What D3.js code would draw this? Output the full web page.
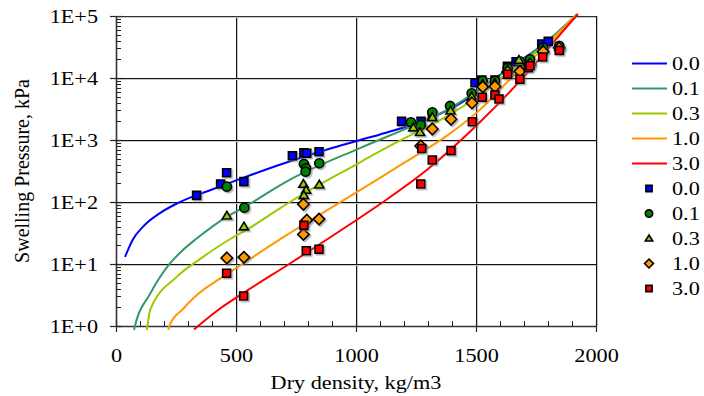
<!DOCTYPE html>
<html>
<head>
<meta charset="utf-8">
<script src="https://cdn.jsdelivr.net/npm/d3@7"></script>
<style>
  body { margin: 0; background: #fff; }
  svg text { font-family: "Liberation Serif", "Times New Roman", serif; fill: #000; }
</style>
</head>
<body>
<svg id="chart" width="704" height="396"></svg>
<script>
// ---- data ----
const seriesLabels = ['0.0', '0.1', '0.3', '1.0', '3.0'];
const xTicks = [0, 500, 1000, 1500, 2000];
const yTicks = [1, 10, 100, 1000, 10000, 100000];
const yTickLabels = ['1E+0', '1E+1', '1E+2', '1E+3', '1E+4', '1E+5'];

// model curves [dry density, swelling pressure]
const fit00 = [[37.5,13],[71,25.1],[112,39.8],[183,66.1],[254,94.6],[336,129],[392,155],[529,245],[713,437],[900,741],
  [1017,1000],[1100,1230],[1308,2240],[1446,4170],[1517,6610],[1642,14800],[1787,36300],[1921,107000]];
const fit01 = [[75,0.86],[79,1],[142,3.3],[225,10.2],[280,17],[336,25.7],[461,57.5],[535,83],[725,229],[1017,741],
  [1183,1380],[1239,1700],[1378,3020],[1489,5620],[1642,14450],[1787,36300],[1921,107000]];
const fit03 = [[128,0.86],[131,1],[142,1.8],[253,6.2],[350,12],[489,27],[530,33],[683,79],[725,100],[1017,437],
  [1100,661],[1183,977],[1239,1260],[1378,2400],[1503,4900],[1642,12900],[1787,33900],[1921,107000]];
const fit10 = [[218,0.86],[222,1],[280,1.9],[322,2.8],[461,6.8],[503,8.7],[683,25],[725,31.6],[808,50],[1017,155],
  [1100,245],[1183,389],[1238,525],[1379,1175],[1517,3090],[1642,9550],[1787,31600],[1921,107000]];
const fit30 = [[325,0.88],[420,1.75],[530,3.39],[725,10.2],[975,43.7],[1113,100],[1296,331],[1517,1950],[1713,12000],
  [1904,87100],[1925,107000]];

// measured points
const obs00 = [[336,128],[436,195],[461,297],[533,213],[735,558],[783,624],[795,610],[846,648],[1190,2000],[1271,2000],
  [1318,2500],[1496,8400],[1524,9300],[1579,9300],[1631,15400],[1667,18300],[1774,35300],[1801,39000]];
const obs01 = [[462,177],[535,81],[783,410],[792,349],[790,308],[847,421],[1229,1930],[1270,1745],[1318,2800],[1392,3535],
  [1482,5660],[1528,9000],[1579,9000],[1632,14500],[1683,18500],[1725,20000],[1780,31000],[1847,33000]];
const obs03 = [[462,60],[533,40],[781,195],[792,156],[783,128],[847,190],[1239,1580],[1267,1330],[1318,2320],[1394,2970],
  [1482,4990],[1528,8000],[1579,8300],[1632,13500],[1679,19500],[1725,17500],[1780,29000],[1847,31500]];
const obs10 = [[462,12.5],[533,12.8],[781,92],[795,51],[781,30],[846,53],[1270,800],[1318,1504],[1396,2157],[1483,3955],
  [1528,7200],[1579,7300],[1632,12500],[1683,12800],[1725,16500],[1780,26600],[1847,30500]];
const obs30 = [[461,7.1],[532,3.05],[783,42],[793,16.4],[846,17.3],[1270,195],[1274,730],[1318,476],[1396,673],[1485,1973],
  [1526,4880],[1579,5320],[1596,4580],[1632,11480],[1683,9530],[1718,14660],[1725,15800],[1778,21800],[1847,27900]];

const fits = [fit00, fit01, fit03, fit10, fit30];
const observations = [obs00, obs01, obs03, obs10, obs30];

// ---- styles ----
const lineColors = ['#0000ff', '#339966', '#99cc00', '#ff9900', '#ff0000'];
const markerFills = ['#0000ff', '#008000', '#99cc00', '#ff9900', '#ff0000'];
const markerShapes = ['square', 'circle', 'triangle', 'diamond', 'square'];
const fontSize = 19;
const stretchX = 1.17;  // the reference text is a bit wider than plain Times

const svg = d3.select('#chart');
const plot = { left: 116, right: 596, top: 16, bottom: 326 };

const x = d3.scaleLinear().domain([0, 2000]).range([plot.left, plot.right]);
const y = d3.scaleLog().domain([1, 100000]).range([plot.bottom, plot.top]);

const defs = svg.append('defs');
defs.append('filter').attr('id', 'shadow').attr('x', '-50%').attr('y', '-50%').attr('width', '200%').attr('height', '200%')
  .append('feDropShadow').attr('dx', 1.5).attr('dy', 1.5).attr('stdDeviation', 0.6)
  .attr('flood-color', '#777').attr('flood-opacity', 0.55);

function stretch(sel) {
  sel.each(function () {
    const w = this.getComputedTextLength();
    this.setAttribute('textLength', w * stretchX);
    this.setAttribute('lengthAdjust', 'spacingAndGlyphs');
  });
}

function markerPath(shape, s) {
  if (shape === 'square') return `M${-s/2},${-s/2}h${s}v${s}h${-s}Z`;
  if (shape === 'circle') { const r = s / 2 + 0.6; return `M${r},0A${r},${r} 0 1,1 ${-r},0A${r},${r} 0 1,1 ${r},0Z`; }
  if (shape === 'triangle') { const h = s * 0.9; return `M0,${-h*0.62}L${s/2+0.6},${h*0.45}L${-s/2-0.6},${h*0.45}Z`; }
  const d = s * 0.72; return `M0,${-d}L${d},0L0,${d}L${-d},0Z`;
}

// ---- gridlines ----
const grid = svg.append('g');
xTicks.filter(v => v > 0).forEach(v => {
  grid.append('line').attr('x1', x(v) + 1.5).attr('x2', x(v) + 1.5).attr('y1', plot.top).attr('y2', plot.bottom)
    .attr('stroke', '#c8c8c8').attr('stroke-width', 1);
  grid.append('line').attr('x1', x(v) + 0.5).attr('x2', x(v) + 0.5).attr('y1', plot.top).attr('y2', plot.bottom)
    .attr('stroke', '#111').attr('stroke-width', 1);
});
yTicks.filter(v => v > 1).forEach(v => {
  grid.append('line').attr('x1', plot.left).attr('x2', plot.right).attr('y1', Math.round(y(v)) + 1.5).attr('y2', Math.round(y(v)) + 1.5)
    .attr('stroke', '#c8c8c8').attr('stroke-width', 1);
  grid.append('line').attr('x1', plot.left).attr('x2', plot.right).attr('y1', Math.round(y(v)) + 0.5).attr('y2', Math.round(y(v)) + 0.5)
    .attr('stroke', '#111').attr('stroke-width', 1);
});

// ---- minor ticks (inside) ----
const minor = svg.append('g').attr('stroke', '#222').attr('stroke-width', 1);
d3.range(100, 2000, 100).filter(v => v % 500 !== 0).forEach(v => {
  minor.append('line').attr('x1', Math.round(x(v)) + 0.5).attr('x2', Math.round(x(v)) + 0.5)
    .attr('y1', plot.bottom).attr('y2', plot.bottom - 5);
});
yTicks.slice(0, -1).forEach(p => {
  d3.range(2, 10).forEach(m => {
    const yy = Math.round(y(p * m)) + 0.5;
    minor.append('line').attr('x1', plot.left).attr('x2', plot.left + 5).attr('y1', yy).attr('y2', yy);
  });
});

// ---- axes ----
const xAxis = svg.append('g').attr('transform', `translate(0,${plot.bottom})`)
  .call(d3.axisBottom(x).tickValues(xTicks).tickFormat(d3.format('d')).tickSize(6).tickSizeOuter(0).tickPadding(17));
const yAxis = svg.append('g').attr('transform', `translate(${plot.left},0)`)
  .call(d3.axisLeft(y).tickValues(yTicks).tickFormat((d, i) => yTickLabels[i]).tickSize(6).tickSizeOuter(0).tickPadding(12));
[xAxis, yAxis].forEach(a => {
  a.attr('font-family', null);
  a.select('.domain').attr('stroke', '#333').attr('stroke-width', 1.6);
  a.selectAll('.tick line').attr('stroke', '#222').attr('stroke-width', 1.2);
  a.selectAll('text').attr('font-size', fontSize).call(stretch);
});
yAxis.selectAll('.tick line').attr('x2', -6).clone().attr('x2', 6);
xAxis.selectAll('.tick line').clone().attr('y2', -6);
yAxis.selectAll('text').attr('dy', '0.36em');

// top border
svg.append('line').attr('x1', plot.left).attr('x2', plot.right).attr('y1', plot.top + 0.5).attr('y2', plot.top + 0.5)
  .attr('stroke', '#333').attr('stroke-width', 1.2);

// ---- model curves ----
const line = d3.line().x(d => x(d[0])).y(d => y(d[1])).curve(d3.curveMonotoneX);
fits.forEach((f, i) => {
  svg.append('path').datum(f).attr('d', line).attr('fill', 'none')
    .attr('stroke', lineColors[i]).attr('stroke-width', 2);
});

// ---- measured points ----
observations.forEach((obs, i) => {
  svg.append('g').attr('filter', 'url(#shadow)')
    .selectAll('path').data(obs).join('path')
    .attr('d', markerPath(markerShapes[i], 8))
    .attr('transform', d => `translate(${x(d[0])},${y(d[1])})`)
    .attr('fill', markerFills[i]).attr('stroke', '#000').attr('stroke-width', 1.6);
});

// ---- axis titles ----
svg.append('text').attr('x', (plot.left + plot.right) / 2).attr('y', 389).attr('text-anchor', 'middle')
  .attr('font-size', fontSize).text('Dry density, kg/m3').call(stretch);
svg.append('text').attr('transform', `translate(29,${(plot.top + plot.bottom) / 2}) rotate(-90)`)
  .attr('text-anchor', 'middle').attr('font-size', 20).text('Swelling Pressure, kPa');

// ---- legend ----
const legend = svg.append('g');
const legendTop = 63.5, legendStep = 25;
seriesLabels.forEach((lab, i) => {
  const yy = legendTop + i * legendStep;
  legend.append('line').attr('x1', 632).attr('x2', 667).attr('y1', yy).attr('y2', yy)
    .attr('stroke', lineColors[i]).attr('stroke-width', 2);
  legend.append('text').attr('x', 672).attr('y', yy + 6.5).attr('font-size', fontSize).text(lab).call(stretch);
});
seriesLabels.forEach((lab, i) => {
  const yy = legendTop + (i + 5) * legendStep;
  legend.append('path').attr('d', markerPath(markerShapes[i], 6.2)).attr('transform', `translate(649,${yy})`)
    .attr('fill', markerFills[i]).attr('stroke', '#000').attr('stroke-width', 1.6);
  legend.append('text').attr('x', 672).attr('y', yy + 6.5).attr('font-size', fontSize).text(lab).call(stretch);
});
</script>
</body>
</html>
